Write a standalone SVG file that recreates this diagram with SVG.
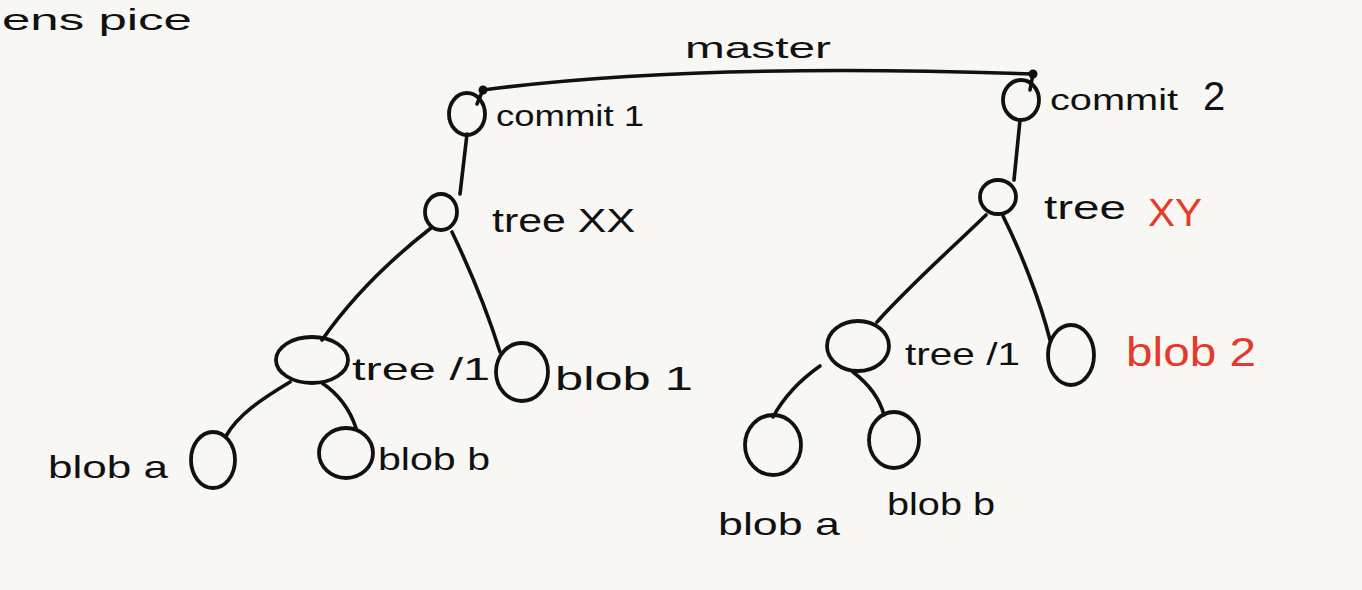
<svg xmlns="http://www.w3.org/2000/svg" width="1362" height="590" viewBox="0 0 1362 590">
<style>
.n{fill:none;stroke:#111;stroke-width:3.8}
.c{fill:none;stroke:#111;stroke-width:3.6;stroke-linecap:round}
.t{font-family:"Liberation Sans","DejaVu Sans",sans-serif;font-size:30px;fill:#111}
.r{fill:#e5392b}
</style>
<rect width="1362" height="590" fill="#f8f7f3"/>
<text class="t" x="2" y="30" style="font-size:30px" textLength="190" lengthAdjust="spacingAndGlyphs">ens pice</text>
<g id="connectors">
<path class="c" d="M483,90 C620,72 800,66 1033,74"/>
<circle cx="483" cy="90" r="4.5" fill="#111"/>
<circle cx="1033" cy="74" r="4.5" fill="#111"/>
<path class="c" d="M483,90 L477,104"/>
<path class="c" d="M1033,74 L1030,90"/>
<path class="c" d="M467,134 L460,194"/>
<path class="c" d="M431,228 C390,260 350,300 322,340"/>
<path class="c" d="M452,232 C475,280 490,320 500,352"/>
<path class="c" d="M290,382 C260,400 238,415 226,436"/>
<path class="c" d="M322,383 C340,395 350,410 356,428"/>
<path class="c" d="M1020,120 L1014,180"/>
<path class="c" d="M986,215 C950,250 910,285 877,322"/>
<path class="c" d="M1003,216 C1020,250 1040,300 1050,340"/>
<path class="c" d="M820,366 C800,380 785,395 773,417"/>
<path class="c" d="M853,372 C870,385 880,400 884,415"/>
</g>
<g id="commit1">
<ellipse class="n" cx="467" cy="114" rx="18" ry="21"/>
<text class="t" x="496" y="126" textLength="148" lengthAdjust="spacingAndGlyphs">commit 1</text>
</g>
<g id="commit2">
<ellipse class="n" cx="1021" cy="100" rx="18" ry="20"/>
<text class="t" x="1050" y="110" textLength="128" lengthAdjust="spacingAndGlyphs">commit</text>
<text class="t" x="1203" y="110" style="font-size:40px">2</text>
</g>
<g id="master">
<text class="t" x="685" y="58" textLength="146" lengthAdjust="spacingAndGlyphs">master</text>
</g>
<g id="treeXX">
<ellipse class="n" cx="441" cy="212" rx="16" ry="18"/>
<text class="t" x="492" y="232" style="font-size:34px" textLength="143" lengthAdjust="spacingAndGlyphs">tree XX</text>
</g>
<g id="treeXY">
<ellipse class="n" cx="998" cy="197" rx="18" ry="17"/>
<text class="t" x="1044" y="219" style="font-size:34px" textLength="82" lengthAdjust="spacingAndGlyphs">tree</text>
<text class="t r" x="1148" y="226" style="font-size:38px" textLength="54" lengthAdjust="spacingAndGlyphs">XY</text>
</g>
<g id="tree11-left">
<ellipse class="n" cx="312" cy="360" rx="36" ry="23"/>
<text class="t" x="352" y="380" style="font-size:32px" textLength="138" lengthAdjust="spacingAndGlyphs">tree /1</text>
</g>
<g id="blob1">
<ellipse class="n" cx="522" cy="372" rx="26" ry="29"/>
<text class="t" x="555" y="390" style="font-size:34px" textLength="138" lengthAdjust="spacingAndGlyphs">blob 1</text>
</g>
<g id="blobA-left">
<ellipse class="n" cx="213" cy="460" rx="22" ry="28"/>
<text class="t" x="48" y="478" style="font-size:32px" textLength="120" lengthAdjust="spacingAndGlyphs">blob a</text>
</g>
<g id="blobB-left">
<ellipse class="n" cx="346" cy="453" rx="27" ry="25"/>
<text class="t" x="378" y="470" style="font-size:32px" textLength="112" lengthAdjust="spacingAndGlyphs">blob b</text>
</g>
<g id="tree11-right">
<ellipse class="n" cx="858" cy="346" rx="31" ry="25"/>
<text class="t" x="905" y="365" style="font-size:32px" textLength="115" lengthAdjust="spacingAndGlyphs">tree /1</text>
</g>
<g id="blob2">
<ellipse class="n" cx="1071" cy="355" rx="23" ry="30"/>
<text class="t r" x="1126" y="366" style="font-size:40px" textLength="130" lengthAdjust="spacingAndGlyphs">blob 2</text>
</g>
<g id="blobA-right">
<ellipse class="n" cx="773" cy="445" rx="28" ry="30"/>
<text class="t" x="718" y="535" style="font-size:32px" textLength="122" lengthAdjust="spacingAndGlyphs">blob a</text>
</g>
<g id="blobB-right">
<ellipse class="n" cx="894" cy="440" rx="25" ry="28"/>
<text class="t" x="887" y="515" style="font-size:32px" textLength="108" lengthAdjust="spacingAndGlyphs">blob b</text>
</g>
</svg>
